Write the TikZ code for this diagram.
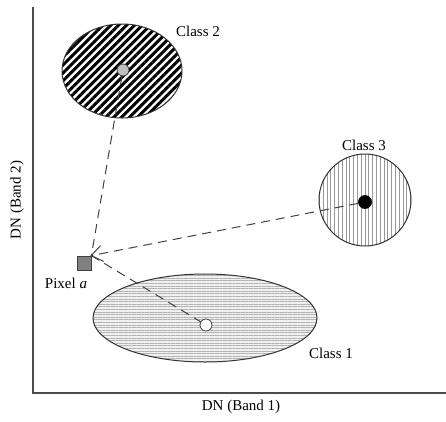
\documentclass[tikz,border=0pt]{standalone}
\usepackage{fontspec}
\setmainfont{Liberation Serif}
\usetikzlibrary{shapes.geometric,patterns.meta,arrows.meta}
\begin{document}
\begin{tikzpicture}[x=1pt,y=-1pt,
  lbl/.style={font=\fontsize{15}{17}\selectfont, inner sep=0pt},
  axis/.style={draw=black!70, line width=1.8pt},
  conn/.style={draw=black!75, line width=1pt, dash pattern=on 9pt off 6pt},
  dotc/.style={circle, draw=black!75, line width=0.8pt, minimum size=12pt, inner sep=0pt},
  cls/.style={ellipse, draw=black!80, line width=1pt, inner sep=0pt}
]
\useasboundingbox (0,0) rectangle (446,421);
% axes
\coordinate (ytop) at (33,7);
\coordinate (orig) at (33,393);
\coordinate (xend) at (446,393);
\draw[axis] (ytop) -- (orig) -- (xend);
\node[lbl] (xl) at (241,407) {DN (Band 1)};
\node[lbl, rotate=90] (yl) at (17,200) {DN (Band 2)};
% class 2
\node[cls, minimum width=120pt, minimum height=94pt,
  pattern={Lines[angle=45,distance=5.6pt,line width=3pt]}] (c2) at (122,71) {};
\node[dotc, fill=black!25] (d2) at (123,70) {};
\node[lbl] (l2) at (198,31) {Class 2};
% class 3
\node[cls, circle, minimum size=92pt,
  pattern={Lines[angle=90,distance=3.8pt,line width=0.4pt]}, pattern color=black!40] (c3) at (365,200) {};
\node[dotc, fill=black, draw=black, minimum size=13pt] (d3) at (365,202) {};
\node[lbl] (l3) at (364,145) {Class 3};
% class 1
\node[cls, minimum width=224pt, minimum height=88pt,
  preaction={fill=black!6},
  pattern={Lines[angle=0,distance=2.6pt,line width=0.4pt]}, pattern color=black!30] (c1) at (205,318) {};
\node[dotc, fill=white] (d1) at (206,325) {};
\node[lbl] (l1) at (331,353) {Class 1};
% pixel
\node[draw=black!75, fill=black!50, line width=0.8pt, minimum size=14pt, inner sep=0pt] (px) at (84,263) {};
\node[lbl] (pl) at (66,283) {Pixel \textit{a}};
\coordinate (pa) at (px.north east);
% connectors
\draw[conn] (d2) -- (pa);
\draw[conn] (pa) -- (d1);
\draw[conn, -{Straight Barb[length=11pt,width=16pt,line width=1pt]}, shorten >=-1pt] (d3) -- (pa);
\end{tikzpicture}
\end{document}
